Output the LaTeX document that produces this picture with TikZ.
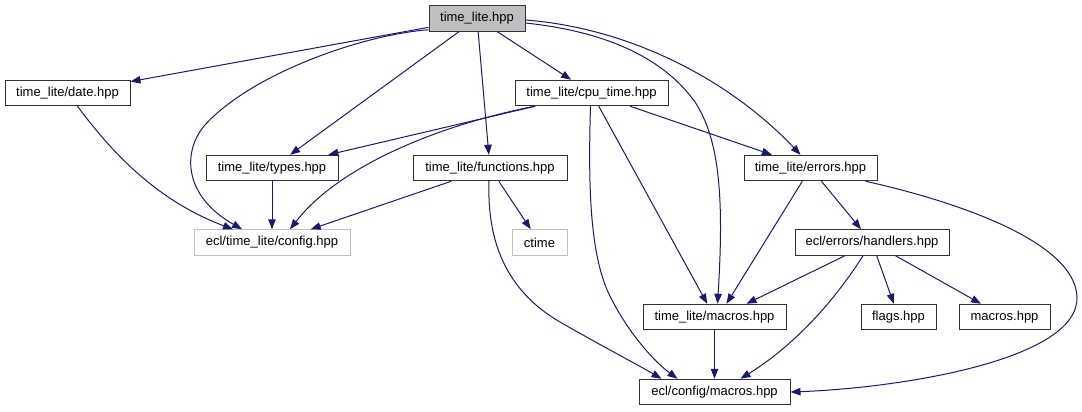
\documentclass[tikz,border=0pt]{standalone}
\usepackage{fontspec}
\setmainfont{Liberation Sans}
\usetikzlibrary{arrows.meta,calc}
\definecolor{edgecol}{HTML}{191970}
\definecolor{lgray}{HTML}{BFBFBF}
\begin{document}
\begin{tikzpicture}[x=0.75pt,y=-0.75pt,
  box/.style={draw=black!80, fill=white, line width=0.75pt, minimum height=19.1pt,
    inner sep=0pt, font=\fontsize{9.75}{11}\selectfont},
  bw/.style={minimum width=#1*0.75pt},
  ghost/.style={box, draw=lgray},
  edge/.style={draw=edgecol, line width=0.75pt, -{Triangle[length=7.5pt,width=5.6pt]}}]
\fill[white] (0,0) rectangle (1082,411);
\useasboundingbox (0,0) rectangle (1082,411);

% nodes
\node[box, fill=lgray, bw=96] (top) at (477,18.5) {time\_lite.hpp};
\node[box, bw=125] (date) at (67.5,93) {time\_lite/date.hpp};
\node[box, bw=153] (cpu) at (591.5,93) {time\_lite/cpu\_time.hpp};
\node[box, bw=132] (types) at (272,168) {time\_lite/types.hpp};
\node[box, bw=154] (func) at (490,168) {time\_lite/functions.hpp};
\node[box, bw=133] (errors) at (810.5,168) {time\_lite/errors.hpp};
\node[ghost, bw=156] (config) at (272,242.5) {ecl/time\_lite/config.hpp};
\node[ghost, bw=55] (ctime) at (539.5,242.5) {ctime};
\node[box, bw=154] (handlers) at (872,242.5) {ecl/errors/handlers.hpp};
\node[box, bw=143] (tlmacros) at (714.5,317) {time\_lite/macros.hpp};
\node[box, bw=75] (flags) at (898.5,317) {flags.hpp};
\node[box, bw=91] (macros) at (1004.5,317) {macros.hpp};
\node[box, bw=151] (cfgmacros) at (714.5,392) {ecl/config/macros.hpp};

% straight edges
\draw[edge] (top) -- (date);
\draw[edge] (top) -- (types);
\draw[edge] (top) -- (func);
\draw[edge] (top) -- (cpu);
\draw[edge] (cpu) -- (types);
\draw[edge] (cpu) -- (errors);
\draw[edge] (cpu) -- (tlmacros);
\draw[edge] (func) -- (config);
\draw[edge] (func) -- (ctime);
\draw[edge] (types) -- (config);
\draw[edge] (errors) -- (handlers);
\draw[edge] (errors) -- ($(tlmacros.north)+(12,0)$);
\draw[edge] (handlers) -- ($(tlmacros.north)+(32,0)$);
\draw[edge] (handlers) -- (flags);
\draw[edge] (handlers) -- (macros);
\draw[edge] (tlmacros) -- (cfgmacros);

% curved edges
\draw[edge] ($(top.south west)+(0,-2)$) .. controls (360,35) and (250,75) .. (205,125)
  .. controls (183,150) and (182,195) .. ($(config.north)+(-30,0)$);
\draw[edge] ($(date.south)+(10,0)$) .. controls (110,150) and (155,200) .. ($(config.north)+(-39,0)$);
\draw[edge] ($(cpu.south west)+(20,0)$) .. controls (440,125) and (340,165) .. ($(config.north)+(18,0)$);
\draw[edge] ($(cpu.south)+(-1,0)$) .. controls (588,190) and (590,260) .. (612,300)
  .. controls (630,335) and (655,362) .. ($(cfgmacros.north)+(-37,0)$);
\draw[edge] ($(func.south)+(-1,0)$) .. controls (487,240) and (505,290) .. (560,322)
  .. controls (600,345) and (640,366) .. ($(cfgmacros.north)+(-53,0)$);
\draw[edge] ($(top.east)+(0,4.5)$) .. controls (610,32) and (665,60) .. (695,102)
  .. controls (720,140) and (724,200) .. ($(tlmacros.north)+(3,0)$);
\draw[edge] ($(top.east)+(0,1.5)$) .. controls (630,28) and (730,80) .. ($(errors.north)+(-10,0)$);
\draw[edge] ($(errors.south east)+(-12,0)$) .. controls (950,200) and (1075,240) .. (1077,297)
  .. controls (1079,360) and (900,388) .. (cfgmacros.east);
\draw[edge] ($(handlers.south)+(-9,0)$) .. controls (835,300) and (795,345) .. ($(cfgmacros.north)+(26,0)$);
\end{tikzpicture}
\end{document}
